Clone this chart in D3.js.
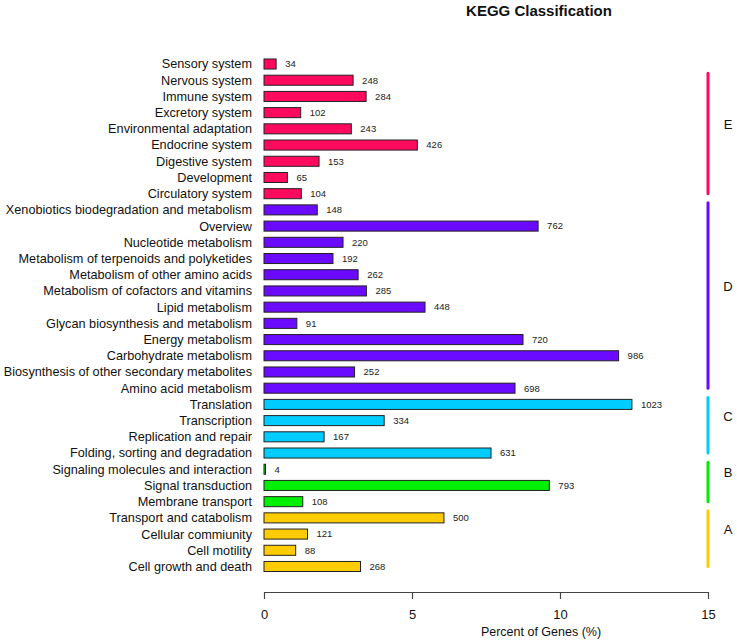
<!DOCTYPE html>
<html>
<head>
<meta charset="utf-8">
<script src="https://cdn.jsdelivr.net/npm/d3@7"></script>
<style>
  html, body { margin: 0; padding: 0; background: #fff; }
  svg { display: block; font-family: "Liberation Sans", Arial, sans-serif; }
</style>
</head>
<body>
<svg id="chart" width="737" height="641"></svg>
<script>
// ---- data ----
const categories = [
  "Sensory system", "Nervous system", "Immune system", "Excretory system",
  "Environmental adaptation", "Endocrine system", "Digestive system", "Development",
  "Circulatory system",
  "Xenobiotics biodegradation and metabolism", "Overview", "Nucleotide metabolism",
  "Metabolism of terpenoids and polyketides", "Metabolism of other amino acids",
  "Metabolism of cofactors and vitamins", "Lipid metabolism",
  "Glycan biosynthesis and metabolism", "Energy metabolism", "Carbohydrate metabolism",
  "Biosynthesis of other secondary metabolites", "Amino acid metabolism",
  "Translation", "Transcription", "Replication and repair", "Folding, sorting and degradation",
  "Signaling molecules and interaction", "Signal transduction", "Membrane transport",
  "Transport and catabolism", "Cellular commiunity", "Cell motility", "Cell growth and death"
];
const geneCounts = [
  34, 248, 284, 102, 243, 426, 153, 65, 104,
  148, 762, 220, 192, 262, 285, 448, 91, 720, 986, 252, 698,
  1023, 334, 167, 631,
  4, 793, 108,
  500, 121, 88, 268
];
const percents = [
  0.41, 3.01, 3.45, 1.24, 2.95, 5.18, 1.86, 0.79, 1.26,
  1.80, 9.26, 2.67, 2.33, 3.18, 3.46, 5.44, 1.11, 8.75, 11.98, 3.06, 8.48,
  12.43, 4.06, 2.03, 7.67,
  0.05, 9.64, 1.31,
  6.08, 1.47, 1.07, 3.26
];
const groupOf = [
  "E","E","E","E","E","E","E","E","E",
  "D","D","D","D","D","D","D","D","D","D","D","D",
  "C","C","C","C",
  "B","B","B",
  "A","A","A","A"
];
const groupNames = ["E", "D", "C", "B", "A"];
const groupColors = ["#ff0a5f", "#6a0aff", "#00ccff", "#00ee00", "#ffcc00"];
// first / last category covered by each group's side line
const groupLineFrom = ["Nervous system", "Xenobiotics biodegradation and metabolism", "Translation", "Signaling molecules and interaction", "Transport and catabolism"];
const groupLineTo = ["Circulatory system", "Amino acid metabolism", "Folding, sorting and degradation", "Membrane transport", "Cell growth and death"];
const xTicks = [0, 5, 10, 15];
const xDomain = [0, 15];
const titleText = "KEGG Classification";
const xLabel = "Percent of Genes (%)";

// ---- drawing ----
const svg = d3.select("#chart");
const color = d3.scaleOrdinal().domain(groupNames).range(groupColors);

const x = d3.scaleLinear().domain(xDomain).range([264, 708]);
const y = d3.scaleBand().domain(categories).range([55.9, 574.6]).paddingInner(0.38).paddingOuter(0.19);

const data = categories.map((c, i) => ({ cat: c, pct: percents[i], n: geneCounts[i], g: groupOf[i] }));

// title
svg.append("text")
  .attr("x", 539).attr("y", 16)
  .attr("text-anchor", "middle")
  .attr("font-size", 15).attr("font-weight", "bold")
  .attr("fill", "#111")
  .text(titleText);

// category labels
svg.append("g").selectAll("text").data(data).enter().append("text")
  .attr("x", 252)
  .attr("y", d => y(d.cat) + y.bandwidth() / 2)
  .attr("dy", "0.35em")
  .attr("text-anchor", "end")
  .attr("font-size", 12.7)
  .attr("fill", "#111")
  .text(d => d.cat);

// bars
svg.append("g").selectAll("rect").data(data).enter().append("rect")
  .attr("x", x(0))
  .attr("y", d => y(d.cat))
  .attr("width", d => Math.max(x(d.pct) - x(0), 1.5))
  .attr("height", y.bandwidth())
  .attr("fill", d => color(d.g))
  .attr("stroke", "#222")
  .attr("stroke-width", 1);

// value labels
svg.append("g").selectAll("text").data(data).enter().append("text")
  .attr("x", d => Math.max(x(d.pct), x(0) + 1.5) + 9)
  .attr("y", d => y(d.cat) + y.bandwidth() / 2)
  .attr("dy", "0.35em")
  .attr("font-size", 9.5)
  .attr("fill", "#222")
  .text(d => d.n);

// group side lines and letters
const gLines = svg.append("g");
groupNames.forEach((g, i) => {
  const top = y(groupLineFrom[i]) - 2;
  const bottom = y(groupLineTo[i]) + y.bandwidth() / 2;
  gLines.append("line")
    .attr("x1", x(xDomain[1])).attr("x2", x(xDomain[1]))
    .attr("y1", top).attr("y2", bottom)
    .attr("stroke", groupColors[i])
    .attr("stroke-width", 3)
    .attr("stroke-linecap", "round");
  gLines.append("text")
    .attr("x", 728)
    .attr("y", (top + bottom) / 2 - 9)
    .attr("dy", "0.35em")
    .attr("text-anchor", "middle")
    .attr("font-size", 13)
    .attr("fill", "#111")
    .text(g);
});

// x axis
const axisY = 592;
const axis = d3.axisBottom(x).tickValues(xTicks).tickSize(7).tickSizeOuter(0).tickFormat(d3.format("d"));
const ax = svg.append("g").attr("transform", `translate(0,${axisY})`).call(axis);
ax.select(".domain").attr("stroke", "#444").attr("stroke-width", 1.2);
ax.selectAll(".tick line").attr("stroke", "#444").attr("stroke-width", 1.2);
ax.selectAll(".tick text")
  .attr("font-family", "\"Liberation Sans\", Arial, sans-serif")
  .attr("font-size", 13).attr("fill", "#111")
  .attr("y", 18);

svg.append("text")
  .attr("x", 541).attr("y", 636)
  .attr("text-anchor", "middle")
  .attr("font-size", 12.5)
  .attr("fill", "#111")
  .text(xLabel);
</script>
</body>
</html>
